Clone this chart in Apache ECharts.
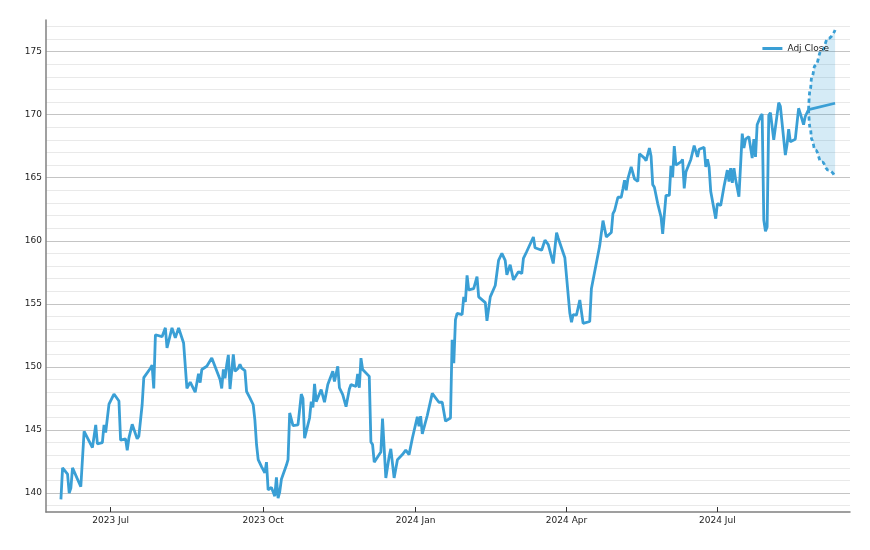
<!DOCTYPE html>
<html>
<head>
<meta charset="utf-8">
<script src="https://cdn.jsdelivr.net/npm/echarts@6/dist/echarts.min.js"></script>
<style>
  html, body { margin: 0; padding: 0; background: #fff; }
  #box { width: 870px; height: 550px; }
</style>
</head>
<body>
<div id="box"></div>
<script>
var mychart = echarts.init(document.getElementById('box'));

// daily closes
var closeDates = [
  '2023-06-01', '2023-06-02', '2023-06-05', '2023-06-06', '2023-06-07', '2023-06-08', '2023-06-09', '2023-06-13',
  '2023-06-15', '2023-06-20', '2023-06-22', '2023-06-23', '2023-06-26', '2023-06-27', '2023-06-28', '2023-06-30',
  '2023-07-03', '2023-07-06', '2023-07-07', '2023-07-10', '2023-07-11', '2023-07-12', '2023-07-14', '2023-07-17',
  '2023-07-18', '2023-07-20', '2023-07-21', '2023-07-25', '2023-07-26', '2023-07-27', '2023-07-28', '2023-08-01',
  '2023-08-03', '2023-08-04', '2023-08-07', '2023-08-08', '2023-08-09', '2023-08-11', '2023-08-14', '2023-08-16',
  '2023-08-18', '2023-08-21', '2023-08-22', '2023-08-23', '2023-08-24', '2023-08-25', '2023-08-28', '2023-08-31',
  '2023-09-01', '2023-09-05', '2023-09-06', '2023-09-07', '2023-09-08', '2023-09-09', '2023-09-10', '2023-09-11',
  '2023-09-13', '2023-09-14', '2023-09-16', '2023-09-17', '2023-09-18', '2023-09-20', '2023-09-21', '2023-09-23',
  '2023-09-25', '2023-09-26', '2023-09-27', '2023-09-28', '2023-09-30', '2023-10-02', '2023-10-03', '2023-10-04',
  '2023-10-06', '2023-10-08', '2023-10-09', '2023-10-10', '2023-10-11', '2023-10-12', '2023-10-15', '2023-10-16',
  '2023-10-17', '2023-10-19', '2023-10-22', '2023-10-23', '2023-10-24', '2023-10-25', '2023-10-26', '2023-10-29',
  '2023-10-30', '2023-10-31', '2023-11-01', '2023-11-02', '2023-11-05', '2023-11-07', '2023-11-09', '2023-11-12',
  '2023-11-13', '2023-11-15', '2023-11-16', '2023-11-18', '2023-11-20', '2023-11-22', '2023-11-23', '2023-11-26',
  '2023-11-27', '2023-11-28', '2023-11-29', '2023-11-30', '2023-12-04', '2023-12-05', '2023-12-06', '2023-12-07',
  '2023-12-10', '2023-12-11', '2023-12-12', '2023-12-14', '2023-12-16', '2023-12-17', '2023-12-19', '2023-12-21',
  '2023-12-24', '2023-12-26', '2023-12-28', '2023-12-30', '2024-01-02', '2024-01-03', '2024-01-04', '2024-01-05',
  '2024-01-08', '2024-01-11', '2024-01-12', '2024-01-15', '2024-01-16', '2024-01-17', '2024-01-19', '2024-01-22',
  '2024-01-23', '2024-01-24', '2024-01-25', '2024-01-26', '2024-01-29', '2024-01-30', '2024-01-31', '2024-02-01',
  '2024-02-02', '2024-02-05', '2024-02-07', '2024-02-08', '2024-02-12', '2024-02-13', '2024-02-15', '2024-02-18',
  '2024-02-19', '2024-02-20', '2024-02-22', '2024-02-24', '2024-02-25', '2024-02-27', '2024-02-29', '2024-03-03',
  '2024-03-05', '2024-03-06', '2024-03-07', '2024-03-08', '2024-03-12', '2024-03-13', '2024-03-17', '2024-03-19',
  '2024-03-21', '2024-03-24', '2024-03-26', '2024-03-27', '2024-03-31', '2024-04-01', '2024-04-03', '2024-04-04',
  '2024-04-05', '2024-04-07', '2024-04-09', '2024-04-11', '2024-04-15', '2024-04-16', '2024-04-21', '2024-04-23',
  '2024-04-24', '2024-04-25', '2024-04-28', '2024-04-29', '2024-04-30', '2024-05-02', '2024-05-04', '2024-05-05',
  '2024-05-06', '2024-05-07', '2024-05-08', '2024-05-10', '2024-05-12', '2024-05-14', '2024-05-15', '2024-05-18',
  '2024-05-19', '2024-05-21', '2024-05-22', '2024-05-23', '2024-05-24', '2024-05-26', '2024-05-28', '2024-05-29',
  '2024-05-31', '2024-06-02', '2024-06-03', '2024-06-04', '2024-06-05', '2024-06-06', '2024-06-09', '2024-06-10',
  '2024-06-11', '2024-06-12', '2024-06-15', '2024-06-17', '2024-06-19', '2024-06-20', '2024-06-23', '2024-06-24',
  '2024-06-25', '2024-06-26', '2024-06-27', '2024-06-30', '2024-07-01', '2024-07-02', '2024-07-03', '2024-07-05',
  '2024-07-07', '2024-07-08', '2024-07-09', '2024-07-10', '2024-07-11', '2024-07-12', '2024-07-14', '2024-07-16',
  '2024-07-17', '2024-07-18', '2024-07-20', '2024-07-22', '2024-07-23', '2024-07-24', '2024-07-25', '2024-07-27',
  '2024-07-28', '2024-07-29', '2024-07-30', '2024-07-31', '2024-08-01', '2024-08-02', '2024-08-04', '2024-08-05',
  '2024-08-07', '2024-08-08', '2024-08-11', '2024-08-12', '2024-08-13', '2024-08-14', '2024-08-15', '2024-08-17',
  '2024-08-19', '2024-08-20', '2024-08-22', '2024-08-23', '2024-08-25'
];
var closeValues = [
  139.5, 142.0, 141.5, 140.0, 140.4, 142.0, 141.9, 140.5,
  144.9, 143.6, 145.4, 143.9, 144.0, 145.4, 144.8, 147.05,
  147.85, 147.3, 144.2, 144.3, 143.4, 144.35, 145.45, 144.3,
  144.5, 147.0, 149.15, 149.9, 150.15, 148.3, 152.55, 152.4,
  153.1, 151.5, 153.1, 153.2, 152.3, 153.1, 151.9, 148.3,
  148.8, 148.0, 148.05, 149.45, 148.75, 149.8, 150.05, 150.7,
  150.65, 149.0, 148.3, 149.8, 149.1, 150.15, 150.95, 148.25,
  151.0, 149.65, 149.9, 150.2, 149.9, 149.7, 148.05, 147.55,
  147.0, 145.8, 143.85, 142.65, 142.1, 141.6, 142.45, 140.25,
  140.45, 139.75, 141.25, 139.6, 140.1, 141.1, 142.2, 142.65,
  146.35, 145.35, 145.4, 145.35, 147.85, 147.5, 144.35, 145.95,
  147.25, 146.8, 148.65, 147.25, 148.2, 147.2, 148.6, 149.65,
  148.85, 150.05, 148.35, 147.8, 146.85, 148.25, 148.6, 148.45,
  149.45, 148.35, 150.7, 149.8, 149.25, 144.05, 143.85, 142.45,
  143.05, 143.25, 145.9, 141.2, 142.9, 143.5, 141.2, 142.65,
  143.05, 143.4, 143.05, 144.35, 146.05, 145.3, 146.1, 144.7,
  146.15, 147.9, 147.8, 147.2, 147.1, 147.2, 145.7, 145.95,
  152.15, 150.3, 153.75, 154.25, 154.15, 155.55, 155.15, 157.25,
  156.1, 156.2, 157.15, 155.55, 155.1, 153.65, 155.55, 156.45,
  156.55, 158.45, 159.0, 158.45, 157.3, 158.1, 156.9, 157.55,
  157.4, 158.6, 158.45, 159.15, 160.3, 159.45, 159.25, 160.05,
  159.7, 158.2, 160.65, 160.2, 158.65, 158.6, 154.25, 153.55,
  154.15, 154.1, 155.3, 153.45, 153.6, 156.2, 159.6, 161.6,
  161.55, 160.3, 160.65, 162.15, 162.4, 163.45, 163.45, 164.1,
  164.8, 164.0, 164.9, 165.85, 164.9, 164.7, 166.9, 166.55,
  166.35, 167.35, 166.7, 164.45, 164.25, 162.95, 161.9, 160.55,
  163.6, 163.6, 165.95, 165.05, 167.5, 166.0, 166.25, 166.45,
  164.15, 165.45, 166.45, 167.55, 166.65, 167.25, 167.4, 165.85,
  166.45, 165.85, 163.9, 161.75, 162.95, 162.85, 162.8, 164.3,
  165.6, 164.7, 165.75, 164.6, 165.75, 164.85, 163.5, 168.5,
  167.35, 168.05, 168.25, 166.55, 168.05, 166.65, 169.2, 169.85,
  170.05, 161.65, 160.75, 161.1, 169.95, 170.15, 168.0, 168.05,
  170.95, 170.65, 166.8, 167.6, 168.85, 167.85, 167.85, 168.05,
  170.5, 170.1, 169.2, 169.85, 170.4
];

// forecast after the last close
var forecastDates = ['2024-08-25', '2024-08-26', '2024-08-27', '2024-08-29', '2024-09-02', '2024-09-06', '2024-09-10'];
var forecastUpper = [170.4, 172.0, 173.0, 173.9, 175.1, 176.05, 176.7];
var forecastLower = [170.4, 168.9, 168.0, 167.2, 166.25, 165.6, 165.1];
var forecastMidDates = ['2024-08-25', '2024-09-10'];
var forecastMid = [170.4, 170.9];

var tickLabels = ['2023-07-01', '2023-10-01', '2024-01-01', '2024-04-01', '2024-07-01'];
var monthNames = ['Jan', 'Feb', 'Mar', 'Apr', 'May', 'Jun', 'Jul', 'Aug', 'Sep', 'Oct', 'Nov', 'Dec'];

var lineColor = '#3a9fd5';
var font = 'DejaVu Sans';

function ts(s) {
    return +echarts.time.parse(s);
}

function pairs(xs, ys) {
    return xs.map(function (x, i) { return [ts(x), ys[i]]; });
}

// value first, date second, so the stack runs on the value
var lowerData = forecastDates.map(function (d, i) {
    return [forecastLower[i], ts(d)];
});
var bandData = forecastDates.map(function (d, i) {
    return [+(forecastUpper[i] - forecastLower[i]).toFixed(3), ts(d)];
});

var tickValues = tickLabels.map(ts);

var options = {
    animation: false,
    grid: {
        left: 46,
        right: 20,
        top: 20,
        bottom: 38
    },
    legend: {
        data: ['Adj Close'],
        right: 36,
        top: 39,
        icon: 'rect',
        itemWidth: 20,
        itemHeight: 3,
        itemGap: 6,
        textStyle: {
            fontFamily: font,
            fontSize: 9,
            color: '#222'
        }
    },
    xAxis: {
        type: 'value',
        min: ts('2023-05-23'),
        max: ts('2024-09-19'),
        scale: true,
        axisLine: {
            show: true,
            lineStyle: { color: '#808080', width: 1.5 }
        },
        axisTick: {
            show: true,
            inside: true,
            length: 5,
            lineStyle: { color: '#333' },
            customValues: tickValues
        },
        axisLabel: {
            margin: 4,
            fontFamily: font,
            fontSize: 9,
            color: '#222',
            customValues: tickValues,
            formatter: function (v) {
                var d = new Date(v);
                return d.getFullYear() + ' ' + monthNames[d.getMonth()];
            }
        },
        splitLine: { show: false }
    },
    yAxis: {
        type: 'value',
        min: 138.5,
        max: 177.5,
        interval: 0.5,
        axisLine: {
            show: true,
            lineStyle: { color: '#808080', width: 1.5 }
        },
        axisTick: { show: false },
        axisLabel: {
            margin: 4,
            fontFamily: font,
            fontSize: 9,
            color: '#222',
            formatter: function (v) {
                return Math.abs(v % 5) < 1e-6 ? String(v) : '';
            }
        },
        splitLine: {
            show: true,
            lineStyle: {
                width: 1,
                color: ['rgba(0,0,0,0)', '#e9e9e9', 'rgba(0,0,0,0)', '#c4c4c4', 'rgba(0,0,0,0)',
                        '#e9e9e9', 'rgba(0,0,0,0)', '#e9e9e9', 'rgba(0,0,0,0)', '#e9e9e9']
            }
        }
    },
    series: [{
        name: 'Adj Close',
        type: 'line',
        symbol: 'none',
        lineStyle: { color: lineColor, width: 2.8 },
        itemStyle: { color: lineColor },
        data: pairs(closeDates, closeValues),
        z: 5
    }, {
        name: 'Forecast',
        type: 'line',
        symbol: 'none',
        lineStyle: { color: lineColor, width: 2.8 },
        data: pairs(forecastMidDates, forecastMid),
        z: 5
    }, {
        name: 'Lower',
        type: 'line',
        stack: 'band',
        smooth: true,
        smoothMonotone: 'x',
        symbol: 'none',
        encode: { x: 1, y: 0 },
        lineStyle: { color: lineColor, width: 2.8, type: [4, 3] },
        data: lowerData,
        z: 4
    }, {
        name: 'Upper',
        type: 'line',
        stack: 'band',
        smooth: true,
        smoothMonotone: 'x',
        symbol: 'none',
        encode: { x: 1, y: 0 },
        lineStyle: { color: lineColor, width: 2.8, type: [4, 3] },
        areaStyle: { color: 'rgba(58,159,213,0.3)' },
        data: bandData,
        z: 3
    }]
};

mychart.setOption(options);
</script>
</body>
</html>
